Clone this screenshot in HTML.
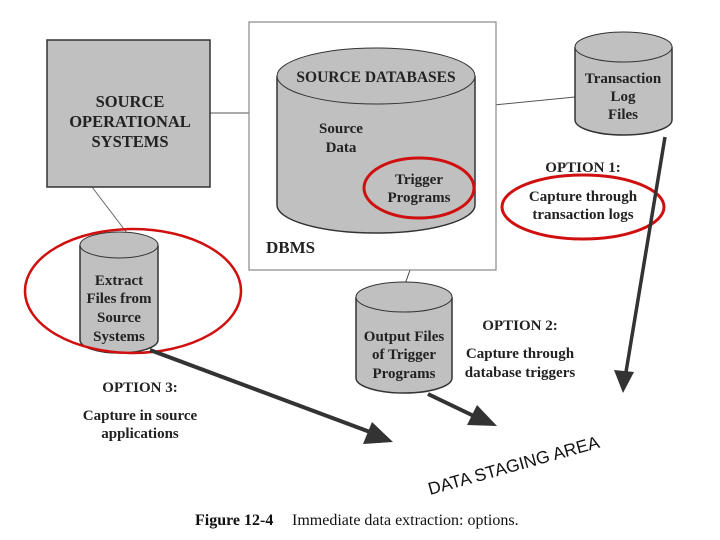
<!DOCTYPE html>
<html><head><style>
html,body{margin:0;padding:0;background:#fff;}
svg{display:block;}
text{font-family:"Liberation Serif",serif;font-weight:bold;fill:#222;}
</style></head><body>
<svg width="720" height="540" viewBox="0 0 720 540" xmlns="http://www.w3.org/2000/svg">
<!-- connectors -->
<line x1="210" y1="113" x2="249" y2="113" stroke="#777" stroke-width="1.2"/>
<line x1="474" y1="107" x2="575" y2="97" stroke="#555" stroke-width="1"/>
<line x1="92" y1="187" x2="127" y2="233" stroke="#666" stroke-width="1"/>
<line x1="430" y1="215" x2="405" y2="284" stroke="#444" stroke-width="1"/>

<!-- SOS box -->
<rect x="47" y="40" width="163" height="147" fill="#c0c0c0" stroke="#333" stroke-width="1.5"/>
<text x="130" y="107" font-size="16.5" text-anchor="middle">SOURCE</text>
<text x="130" y="127" font-size="16.5" text-anchor="middle">OPERATIONAL</text>
<text x="130" y="147" font-size="16.5" text-anchor="middle">SYSTEMS</text>

<!-- DBMS box -->
<rect x="249" y="22" width="247" height="248" fill="#fff" stroke="#888" stroke-width="1.2"/>
<path d="M277 76 L277 205 A99 28 0 0 0 475 205 L475 76" fill="#c0c0c0" stroke="#333" stroke-width="1.5"/>
<ellipse cx="376" cy="76" rx="99" ry="28" fill="#c0c0c0" stroke="#333" stroke-width="1"/>
<text x="376" y="82" font-size="15.5" text-anchor="middle">SOURCE DATABASES</text>
<text x="341" y="133" font-size="15" text-anchor="middle">Source</text>
<text x="341" y="152" font-size="15" text-anchor="middle">Data</text>
<text x="419" y="184" font-size="15" text-anchor="middle">Trigger</text>
<text x="419" y="202" font-size="15" text-anchor="middle">Programs</text>
<ellipse cx="419" cy="188" rx="55" ry="30" fill="none" stroke="#d01010" stroke-width="3"/>
<text x="266" y="253" font-size="17">DBMS</text>

<!-- transaction cylinder -->
<path d="M575 47 L575 120 A48.5 15 0 0 0 672 120 L672 47" fill="#c0c0c0" stroke="#333" stroke-width="1.5"/>
<ellipse cx="623.5" cy="47" rx="48.5" ry="15" fill="#c0c0c0" stroke="#333" stroke-width="1"/>
<text x="623" y="83" font-size="15" text-anchor="middle">Transaction</text>
<text x="623" y="101" font-size="15" text-anchor="middle">Log</text>
<text x="623" y="119" font-size="15" text-anchor="middle">Files</text>

<text x="583" y="172" font-size="15" text-anchor="middle">OPTION 1:</text>
<text x="583" y="201" font-size="15" text-anchor="middle">Capture through</text>
<text x="583" y="219" font-size="15" text-anchor="middle">transaction logs</text>
<ellipse cx="583" cy="207" rx="81" ry="32" fill="none" stroke="#d01010" stroke-width="3"/>

<!-- extract cylinder -->
<path d="M80 245 L80 340 A39 13 0 0 0 158 340 L158 245" fill="#c0c0c0" stroke="#333" stroke-width="1.5"/>
<ellipse cx="119" cy="245" rx="39" ry="13" fill="#c0c0c0" stroke="#333" stroke-width="1"/>
<text x="119" y="285" font-size="15" text-anchor="middle">Extract</text>
<text x="119" y="303" font-size="15" text-anchor="middle">Files from</text>
<text x="119" y="322" font-size="15" text-anchor="middle">Source</text>
<text x="119" y="341" font-size="15" text-anchor="middle">Systems</text>
<ellipse cx="133" cy="291" rx="108" ry="62" fill="none" stroke="#d01010" stroke-width="2.5"/>

<!-- output cylinder -->
<path d="M356 297 L356 378 A48 15 0 0 0 452 378 L452 297" fill="#c0c0c0" stroke="#333" stroke-width="1.5"/>
<ellipse cx="404" cy="297" rx="48" ry="15" fill="#c0c0c0" stroke="#333" stroke-width="1"/>
<text x="404" y="341" font-size="15" text-anchor="middle">Output Files</text>
<text x="404" y="359" font-size="15" text-anchor="middle">of Trigger</text>
<text x="404" y="378" font-size="15" text-anchor="middle">Programs</text>

<text x="520" y="330" font-size="15" text-anchor="middle">OPTION 2:</text>
<text x="520" y="358" font-size="15" text-anchor="middle">Capture through</text>
<text x="520" y="377" font-size="15" text-anchor="middle">database triggers</text>

<text x="140" y="392" font-size="15" text-anchor="middle">OPTION 3:</text>
<text x="140" y="420" font-size="15" text-anchor="middle">Capture in source</text>
<text x="140" y="438" font-size="15" text-anchor="middle">applications</text>

<!-- arrows -->
<line x1="150" y1="350" x2="370" y2="432" stroke="#333" stroke-width="4"/>
<polygon points="393,442 363,444 372,422" fill="#333"/>
<line x1="428" y1="394" x2="478" y2="418" stroke="#333" stroke-width="4"/>
<polygon points="497,426 467,425 477,405" fill="#333"/>
<line x1="665" y1="137" x2="626" y2="372" stroke="#333" stroke-width="3.5"/>
<polygon points="623,393 614,370 634,372" fill="#333"/>

<text x="0" y="0" font-size="17.5" transform="translate(430,495) rotate(-15.6)" style="font-family:'Liberation Sans',sans-serif;font-weight:normal;fill:#111">DATA STAGING AREA</text>

<text x="195" y="525" font-size="16" style="fill:#111">Figure 12-4</text>
<text x="292" y="525" font-size="16" style="font-weight:normal;fill:#111">Immediate data extraction: options.</text>
</svg>
</body></html>
